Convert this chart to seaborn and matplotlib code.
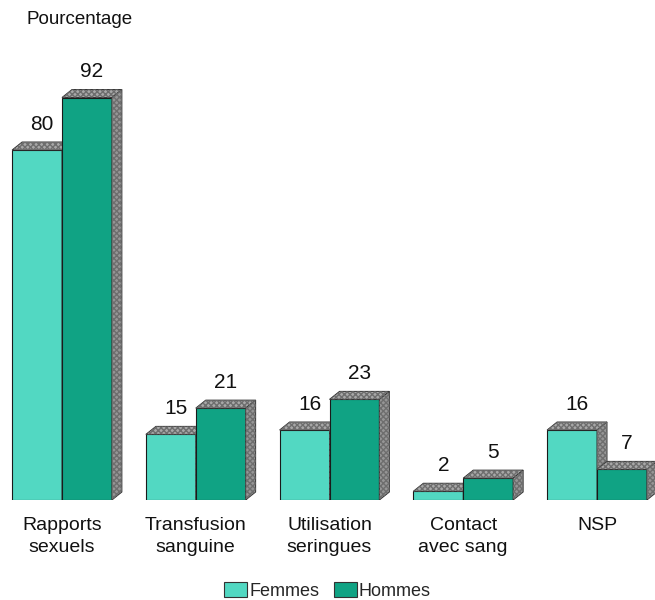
import matplotlib
matplotlib.use("Agg")
import matplotlib.pyplot as plt
from matplotlib.patches import Polygon, Patch
import seaborn as sns
import pandas as pd

categories = ["Rapports\nsexuels", "Transfusion\nsanguine", "Utilisation\nseringues",
              "Contact\navec sang", "NSP"]
femmes = [80, 15, 16, 2, 16]
hommes = [92, 21, 23, 5, 7]
series = ["Femmes", "Hommes"]
colors = {"Femmes": "#52d8c2", "Hommes": "#10a384"}

df = pd.DataFrame({
    "cat": categories * 2,
    "val": femmes + hommes,
    "sexe": ["Femmes"] * len(categories) + ["Hommes"] * len(categories),
})

sns.set_theme(style="white")
plt.rcParams["font.family"] = ["Liberation Sans", "DejaVu Sans"]

fig = plt.figure(figsize=(6.55, 6.0), dpi=100)
ax = fig.add_axes([0, 1 - 500 / 600, 1, 450 / 600])

sns.barplot(data=df, x="cat", y="val", hue="sexe", palette=colors, width=0.746,
            saturation=1, edgecolor="#1a1a1a", linewidth=0.8, legend=False, ax=ax)

xmin, xmax = -62 / 133.75, (655 - 62) / 133.75
ymax = 450 / 4.375
ax.set_xlim(xmin, xmax)
ax.set_ylim(0, ymax)
ax.axis("off")

# pixel sizes of the 3D depth, expressed in data units
px_x = (xmax - xmin) / 655
px_y = ymax / 450
dx, dy = 10 * px_x, 8 * px_y

for k, container in enumerate(ax.containers):
    base_z = 2 + 2 * k
    for bar in container:
        bar.set_zorder(base_z)
        x0, w, h = bar.get_x(), bar.get_width(), bar.get_height()
        top = [(x0, h), (x0 + dx, h + dy), (x0 + w + dx, h + dy), (x0 + w, h)]
        side = [(x0 + w, 0), (x0 + w + dx, dy), (x0 + w + dx, h + dy), (x0 + w, h)]
        for pts, fc in ((top, "#a8a8a8"), (side, "#969696")):
            ax.add_patch(Polygon(pts, closed=True, facecolor=fc, edgecolor="#333333",
                                 linewidth=0.7, zorder=base_z + 0.5))
            ax.add_patch(Polygon(pts, closed=True, facecolor="none", edgecolor="#6e6e6e",
                                 hatch="xxxxxx", linewidth=0, zorder=base_z + 0.6))
        ax.text(x0 + w / 2 + dx / 2, h + 26 * px_y, f"{h:g}", ha="center", va="center",
                fontsize=15, color="#111111")

for i, cat in enumerate(categories):
    ax.text(i, -17 * px_y, cat, ha="center", va="top", fontsize=14,
            color="#111111", linespacing=1.4, clip_on=False)

fig.text(27 / 655, 1 - 20 / 600, "Pourcentage", ha="left", va="center",
         fontsize=13.5, color="#111111")

handles = [Patch(facecolor=colors[s], edgecolor="#333333", linewidth=0.8) for s in series]
fig.legend(handles, series, loc="center", bbox_to_anchor=(0.5, 1 - 591 / 600),
           ncol=2, frameon=False, fontsize=13, handlelength=1.3, handleheight=0.9,
           handletextpad=0.1, columnspacing=0.8, borderpad=0)

fig.savefig("out.png", dpi=100, facecolor="white")
